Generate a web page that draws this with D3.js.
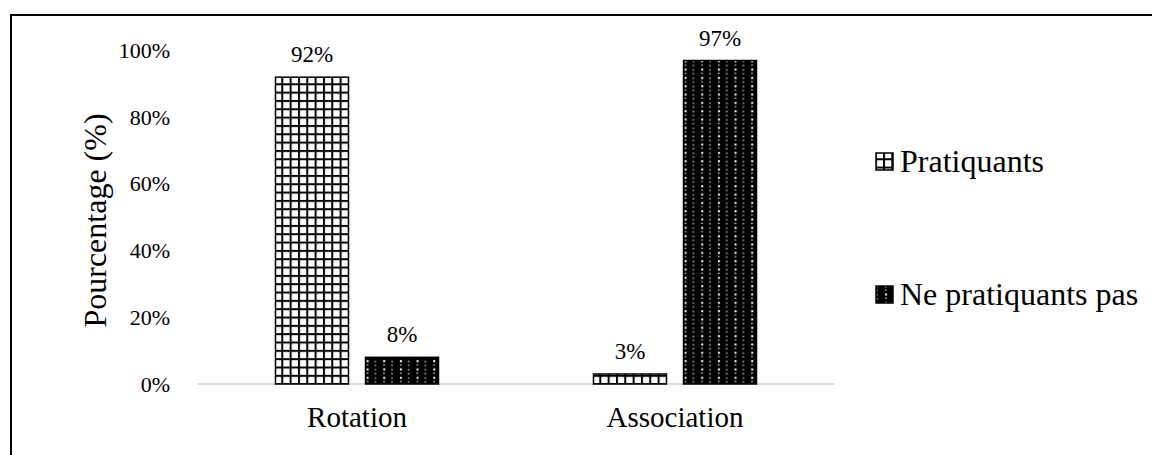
<!DOCTYPE html>
<html>
<head>
<meta charset="utf-8">
<script src="https://cdn.jsdelivr.net/npm/d3@7"></script>
<style>
  html, body { margin: 0; padding: 0; background: #fff; }
  svg { display: block; }
  svg text { font-family: "Liberation Serif", "Times New Roman", serif; }
</style>
</head>
<body>
<svg id="chart" width="1152" height="455"></svg>
<script>
// Practices surveyed and share of respondents in each group
const categories = ["Rotation", "Association"];
const seriesNames = ["Pratiquants", "Ne pratiquants pas"];
const pratiquants = [92, 3];
const nePratiquantsPas = [8, 97];
const yTicks = [0, 20, 40, 60, 80, 100];

const SERIF = "'Liberation Serif', 'Times New Roman', serif";
const svg = d3.select("#chart").attr("font-family", SERIF);
const W = 1152, H = 455;

// Plot area
const plot = { left: 198, right: 834, top: 50.5, bottom: 384 };

const defs = svg.append("defs");

// Grid hatch for "Pratiquants"
const grid = defs.append("pattern")
  .attr("id", "pat-grid")
  .attr("patternUnits", "userSpaceOnUse")
  .attr("width", 8.33).attr("height", 8.33);
grid.append("rect").attr("width", 8.33).attr("height", 8.33).attr("fill", "#fff");
grid.append("rect").attr("x", 0).attr("y", 0).attr("width", 2).attr("height", 8.33).attr("fill", "#000");
grid.append("rect").attr("x", 0).attr("y", 0).attr("width", 8.33).attr("height", 2).attr("fill", "#000");

// Dotted dark fill for "Ne pratiquants pas"
const dots = defs.append("pattern")
  .attr("id", "pat-dots")
  .attr("patternUnits", "userSpaceOnUse")
  .attr("width", 16.66).attr("height", 8.33);
dots.append("rect").attr("width", 16.66).attr("height", 8.33).attr("fill", "#000");
dots.append("rect").attr("x", 2).attr("y", 2).attr("width", 2).attr("height", 2).attr("fill", "#fff");
dots.append("rect").attr("x", 10.3).attr("y", 2.5).attr("width", 1).attr("height", 1.6).attr("fill", "#fff");
dots.append("rect").attr("x", 2).attr("y", 6.2).attr("width", 1.6).attr("height", 1).attr("fill", "#fff");
dots.append("rect").attr("x", 10.3).attr("y", 6.3).attr("width", 1).attr("height", 1.6).attr("fill", "#fff");

const fills = ["url(#pat-grid)", "url(#pat-dots)"];

// Outer frame
svg.append("rect")
  .attr("x", 11).attr("y", 15)
  .attr("width", W + 40).attr("height", H + 40)
  .attr("fill", "none").attr("stroke", "#000").attr("stroke-width", 2);

// Scales
const x0 = d3.scaleBand().domain(categories).range([plot.left, plot.right]).padding(0);
const x1 = d3.scaleBand().domain(seriesNames).range([0, x0.bandwidth()])
  .paddingInner(0.189).paddingOuter(0.861);
const y = d3.scaleLinear().domain([0, 100]).range([plot.bottom, plot.top]);

// Y axis labels (no axis line, no ticks)
const yAxis = d3.axisLeft(y).tickValues(yTicks).tickFormat(d => d + "%").tickSize(0).tickPadding(0);
const yg = svg.append("g").attr("transform", `translate(170,0)`).call(yAxis)
  .attr("font-family", SERIF);
yg.select(".domain").remove();
yg.selectAll("text")
  .attr("font-size", 22).attr("fill", "#000");

// Baseline
svg.append("line")
  .attr("x1", plot.left).attr("x2", plot.right)
  .attr("y1", y(0)).attr("y2", y(0))
  .attr("stroke", "#d9d9d9").attr("stroke-width", 2);

// Category labels
const xAxis = d3.axisBottom(x0).tickSize(0).tickPadding(0);
const xg = svg.append("g").attr("transform", `translate(0,${y(0)})`).call(xAxis)
  .attr("font-family", SERIF);
xg.select(".domain").remove();
xg.selectAll("text")
  .attr("font-size", 29).attr("fill", "#000")
  .attr("dy", null).attr("y", 43);

// Bars
const rows = categories.map((c, i) => ({
  category: c,
  values: [
    { name: seriesNames[0], value: pratiquants[i], idx: 0 },
    { name: seriesNames[1], value: nePratiquantsPas[i], idx: 1 }
  ]
}));

const groups = svg.append("g").selectAll("g")
  .data(rows).join("g")
  .attr("transform", d => `translate(${x0(d.category)},0)`);

groups.selectAll("rect")
  .data(d => d.values).join("rect")
  .attr("x", d => x1(d.name))
  .attr("y", d => y(d.value))
  .attr("width", x1.bandwidth())
  .attr("height", d => y(0) - y(d.value))
  .attr("fill", d => fills[d.idx])
  .attr("stroke", "#000").attr("stroke-width", 1.5);

// Value labels
groups.selectAll("text.val")
  .data(d => d.values).join("text")
  .attr("class", "val")
  .attr("x", d => x1(d.name) + x1.bandwidth() / 2)
  .attr("y", d => y(d.value) - 15)
  .attr("text-anchor", "middle")
  .attr("font-size", 23).attr("fill", "#000")
  .text(d => d.value + "%");

// Y axis title
svg.append("text")
  .attr("transform", `translate(106,${220.5}) rotate(-90)`)
  .attr("text-anchor", "middle")
  .attr("font-size", 32).attr("fill", "#000")
  .text("Pourcentage (%)");

// Legend
const legendY = [153, 286];
const legend = svg.append("g").selectAll("g")
  .data(seriesNames).join("g");
legend.append("rect")
  .attr("x", 876).attr("y", (d, i) => legendY[i])
  .attr("width", 17).attr("height", 17)
  .attr("fill", (d, i) => fills[i])
  .attr("stroke", "#000").attr("stroke-width", 1.5);
legend.append("text")
  .attr("x", 900).attr("y", (d, i) => legendY[i] + 19)
  .attr("font-size", 32).attr("fill", "#000")
  .text(d => d);
</script>
</body>
</html>
